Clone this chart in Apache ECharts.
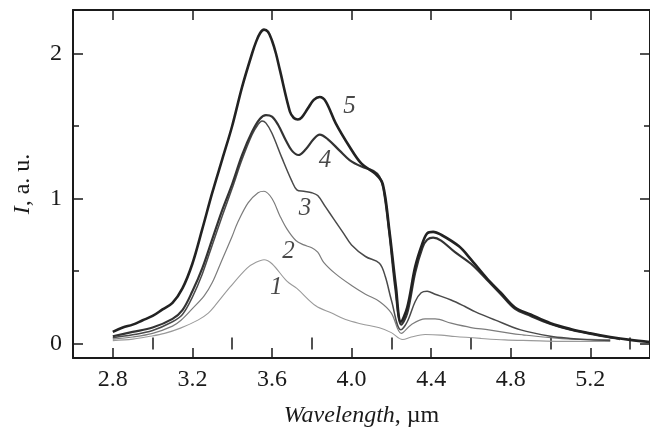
<!DOCTYPE html>
<html>
<head>
<meta charset="utf-8">
<script src="https://cdn.jsdelivr.net/npm/echarts@6/dist/echarts.min.js"></script>
<style>
  html, body { margin: 0; padding: 0; background: #fff; }
  #chart { width: 650px; height: 433px; }
</style>
</head>
<body>
<div id="chart"></div>
<script>
// Emission spectra 1..5: wavelength (µm) and intensity (a.u.)
const wl1 = [2.80, 2.90, 2.98, 3.06, 3.14, 3.23, 3.28, 3.31, 3.39, 3.475, 3.52, 3.56, 3.60, 3.675, 3.725, 3.82, 3.90, 3.97, 4.05, 4.14, 4.20, 4.257, 4.30, 4.37, 4.45, 4.52, 4.65, 4.77, 4.90, 5.05, 5.20, 5.30];
const int1 = [0.02, 0.03, 0.048, 0.07, 0.106, 0.163, 0.21, 0.255, 0.39, 0.52, 0.56, 0.578, 0.55, 0.43, 0.38, 0.26, 0.21, 0.165, 0.135, 0.108, 0.075, 0.028, 0.045, 0.062, 0.058, 0.048, 0.035, 0.025, 0.02, 0.015, 0.015, 0.015];

const wl2 = [2.80, 2.90, 3.00, 3.10, 3.143, 3.20, 3.26, 3.30, 3.342, 3.40, 3.426, 3.48, 3.53, 3.56, 3.60, 3.64, 3.675, 3.72, 3.76, 3.80, 3.83, 3.86, 3.92, 4.00, 4.07, 4.14, 4.20, 4.25, 4.30, 4.37, 4.42, 4.50, 4.60, 4.69, 4.80, 4.86, 5.00, 5.10, 5.20, 5.30];
const int2 = [0.03, 0.045, 0.07, 0.12, 0.16, 0.24, 0.33, 0.42, 0.554, 0.74, 0.83, 0.97, 1.04, 1.05, 1.0, 0.88, 0.79, 0.71, 0.68, 0.66, 0.63, 0.56, 0.48, 0.40, 0.34, 0.29, 0.21, 0.07, 0.13, 0.17, 0.17, 0.14, 0.11, 0.094, 0.07, 0.06, 0.04, 0.03, 0.028, 0.025];

const wl3 = [2.80, 2.90, 3.00, 3.10, 3.15, 3.20, 3.25, 3.30, 3.35, 3.40, 3.45, 3.50, 3.53, 3.55, 3.57, 3.60, 3.65, 3.70, 3.725, 3.76, 3.80, 3.83, 3.87, 3.91, 3.96, 4.00, 4.07, 4.14, 4.17, 4.20, 4.248, 4.28, 4.32, 4.35, 4.38, 4.42, 4.50, 4.57, 4.62, 4.72, 4.85, 5.00, 5.10, 5.20, 5.30];
const int3 = [0.04, 0.06, 0.09, 0.15, 0.20, 0.32, 0.48, 0.68, 0.88, 1.07, 1.27, 1.44, 1.51, 1.535, 1.52, 1.45, 1.28, 1.12, 1.06, 1.05, 1.04, 1.02, 0.94, 0.86, 0.76, 0.68, 0.60, 0.554, 0.46, 0.30, 0.094, 0.15, 0.29, 0.35, 0.36, 0.34, 0.30, 0.255, 0.22, 0.163, 0.094, 0.05, 0.035, 0.025, 0.02];

const wl4 = [2.80, 2.90, 3.00, 3.10, 3.15, 3.20, 3.25, 3.30, 3.35, 3.40, 3.45, 3.50, 3.54, 3.57, 3.60, 3.63, 3.67, 3.70, 3.733, 3.77, 3.81, 3.84, 3.88, 3.94, 3.99, 4.05, 4.11, 4.14, 4.16, 4.19, 4.22, 4.25, 4.28, 4.32, 4.356, 4.38, 4.41, 4.45, 4.52, 4.60, 4.68, 4.75, 4.82, 4.90, 5.00, 5.10, 5.19, 5.27, 5.35];
const int4 = [0.05, 0.08, 0.11, 0.17, 0.23, 0.36, 0.52, 0.72, 0.92, 1.10, 1.30, 1.46, 1.55, 1.575, 1.565, 1.51, 1.40, 1.33, 1.30, 1.34, 1.41, 1.44, 1.41, 1.33, 1.265, 1.22, 1.19, 1.15, 1.07, 0.76, 0.38, 0.13, 0.21, 0.49, 0.66, 0.715, 0.73, 0.71, 0.63, 0.55, 0.44, 0.34, 0.24, 0.19, 0.135, 0.095, 0.07, 0.048, 0.03];

const wl5 = [2.80, 2.85, 2.90, 2.95, 3.00, 3.05, 3.10, 3.15, 3.20, 3.25, 3.30, 3.35, 3.40, 3.45, 3.50, 3.52, 3.54, 3.56, 3.58, 3.60, 3.62, 3.64, 3.69, 3.71, 3.73, 3.75, 3.78, 3.81, 3.84, 3.87, 3.92, 3.99, 4.05, 4.12, 4.157, 4.19, 4.223, 4.248, 4.28, 4.32, 4.356, 4.38, 4.41, 4.45, 4.54, 4.60, 4.68, 4.75, 4.82, 4.90, 5.00, 5.10, 5.20, 5.30, 5.40, 5.50];
const int5 = [0.08, 0.11, 0.13, 0.16, 0.19, 0.235, 0.28, 0.38, 0.55, 0.79, 1.04, 1.27, 1.50, 1.77, 2.00, 2.08, 2.14, 2.165, 2.15, 2.09, 2.00, 1.885, 1.60, 1.555, 1.545, 1.56, 1.62, 1.68, 1.70, 1.67, 1.52, 1.357, 1.24, 1.17, 1.10, 0.78, 0.39, 0.15, 0.25, 0.53, 0.69, 0.76, 0.77, 0.75, 0.67, 0.58, 0.45, 0.35, 0.25, 0.20, 0.14, 0.10, 0.07, 0.045, 0.025, 0.01];

// Axis ticks and labels
const xMajorTicks = [2.8, 3.2, 3.6, 4.0, 4.4, 4.8, 5.2];
const xMinorTicks = [3.0, 3.4, 3.8, 4.2, 4.6, 5.0, 5.4];
const yMajorTicks = [0, 1, 2];
const yMinorTicks = [0.5, 1.5];

// Curve number labels, placed in data coordinates
const curveNames = ['1', '2', '3', '4', '5'];
const curveLabelWl = [3.622, 3.683, 3.766, 3.866, 3.99];
const curveLabelInt = [0.384, 0.636, 0.932, 1.265, 1.632];

const zip = (xs, ys) => xs.map((x, i) => [x, ys[i]]);

const FONT = 'Liberation Serif';
const INK = '#1a1a1a';

const baseX = {
  type: 'value', min: 2.6, max: 5.5, splitLine: { show: false },
  axisLine: { show: true, onZero: false, lineStyle: { color: INK, width: 2 } }
};
const baseY = {
  type: 'value', min: -0.1, max: 2.3, splitLine: { show: false },
  axisLine: { show: true, onZero: false, lineStyle: { color: INK, width: 2 } }
};

function ticksOnly(base, pos, values, len, withLine) {
  return Object.assign({}, base, {
    position: pos,
    axisLine: withLine ? base.axisLine : { show: false },
    axisLabel: { show: false },
    axisTick: { show: true, inside: true, length: len, customValues: values,
                lineStyle: { color: INK, width: 1.5 } }
  });
}

const xAxes = [
  Object.assign({}, baseX, {
    position: 'bottom',
    name: '{i|Wavelength}{n|, µm}',
    nameLocation: 'middle',
    nameGap: 46,
    nameTextStyle: {
      rich: {
        i: { fontFamily: FONT, fontStyle: 'italic', fontSize: 24, color: INK },
        n: { fontFamily: FONT, fontSize: 24, color: INK }
      }
    },
    axisTick: { show: true, inside: true, length: 10, customValues: xMajorTicks,
                lineStyle: { color: INK, width: 1.5 } },
    axisLabel: { show: true, customValues: xMajorTicks, margin: 10,
                 fontFamily: FONT, fontSize: 24, color: INK,
                 formatter: v => v.toFixed(1) }
  }),
  ticksOnly(baseX, 'bottom', xMinorTicks, 6, false),
  ticksOnly(baseX, 'top', xMajorTicks, 10, true),
  ticksOnly(baseX, 'top', xMinorTicks, 6, false)
];

const yAxes = [
  Object.assign({}, baseY, {
    position: 'left',
    name: '{i|I}{n|, a. u.}',
    nameLocation: 'middle',
    nameGap: 38,
    nameRotate: 90,
    nameTextStyle: {
      rich: {
        i: { fontFamily: FONT, fontStyle: 'italic', fontSize: 24, color: INK },
        n: { fontFamily: FONT, fontSize: 24, color: INK }
      }
    },
    axisTick: { show: true, inside: true, length: 10, customValues: yMajorTicks,
                lineStyle: { color: INK, width: 1.5 } },
    axisLabel: { show: true, customValues: yMajorTicks, margin: 11,
                 fontFamily: FONT, fontSize: 24, color: INK }
  }),
  ticksOnly(baseY, 'left', yMinorTicks, 6, false),
  ticksOnly(baseY, 'right', yMajorTicks, 10, true),
  ticksOnly(baseY, 'right', yMinorTicks, 6, false)
];

const curves = [
  { wl: wl1, val: int1, color: '#9a9a9a', width: 1.1 },
  { wl: wl2, val: int2, color: '#7c7c7c', width: 1.2 },
  { wl: wl3, val: int3, color: '#4a4a4a', width: 1.5 },
  { wl: wl4, val: int4, color: '#333333', width: 2.2 },
  { wl: wl5, val: int5, color: '#222222', width: 2.6 }
];

const series = curves.map((c, k) => ({
  type: 'line',
  name: curveNames[k],
  xAxisIndex: 0, yAxisIndex: 0,
  data: zip(c.wl, c.val),
  showSymbol: false,
  smooth: 0.35,
  lineStyle: { color: c.color, width: c.width },
  z: 2 + k,
  animation: false
}));

// Italic numerals next to each curve
series.push({
  type: 'scatter',
  xAxisIndex: 0, yAxisIndex: 0,
  symbolSize: 0,
  data: curveNames.map((n, k) => ({ value: [curveLabelWl[k], curveLabelInt[k]], name: n })),
  label: {
    show: true, position: 'inside',
    formatter: p => p.name,
    fontFamily: FONT, fontStyle: 'italic', fontSize: 25, color: INK
  },
  silent: true,
  animation: false,
  z: 10
});

const chart = echarts.init(document.getElementById('chart'), null, { renderer: 'canvas' });
chart.setOption({
  backgroundColor: '#ffffff',
  animation: false,
  grid: { left: 73, top: 10, width: 581, height: 348, containLabel: false },
  xAxis: xAxes,
  yAxis: yAxes,
  series: series
});
</script>
</body>
</html>
